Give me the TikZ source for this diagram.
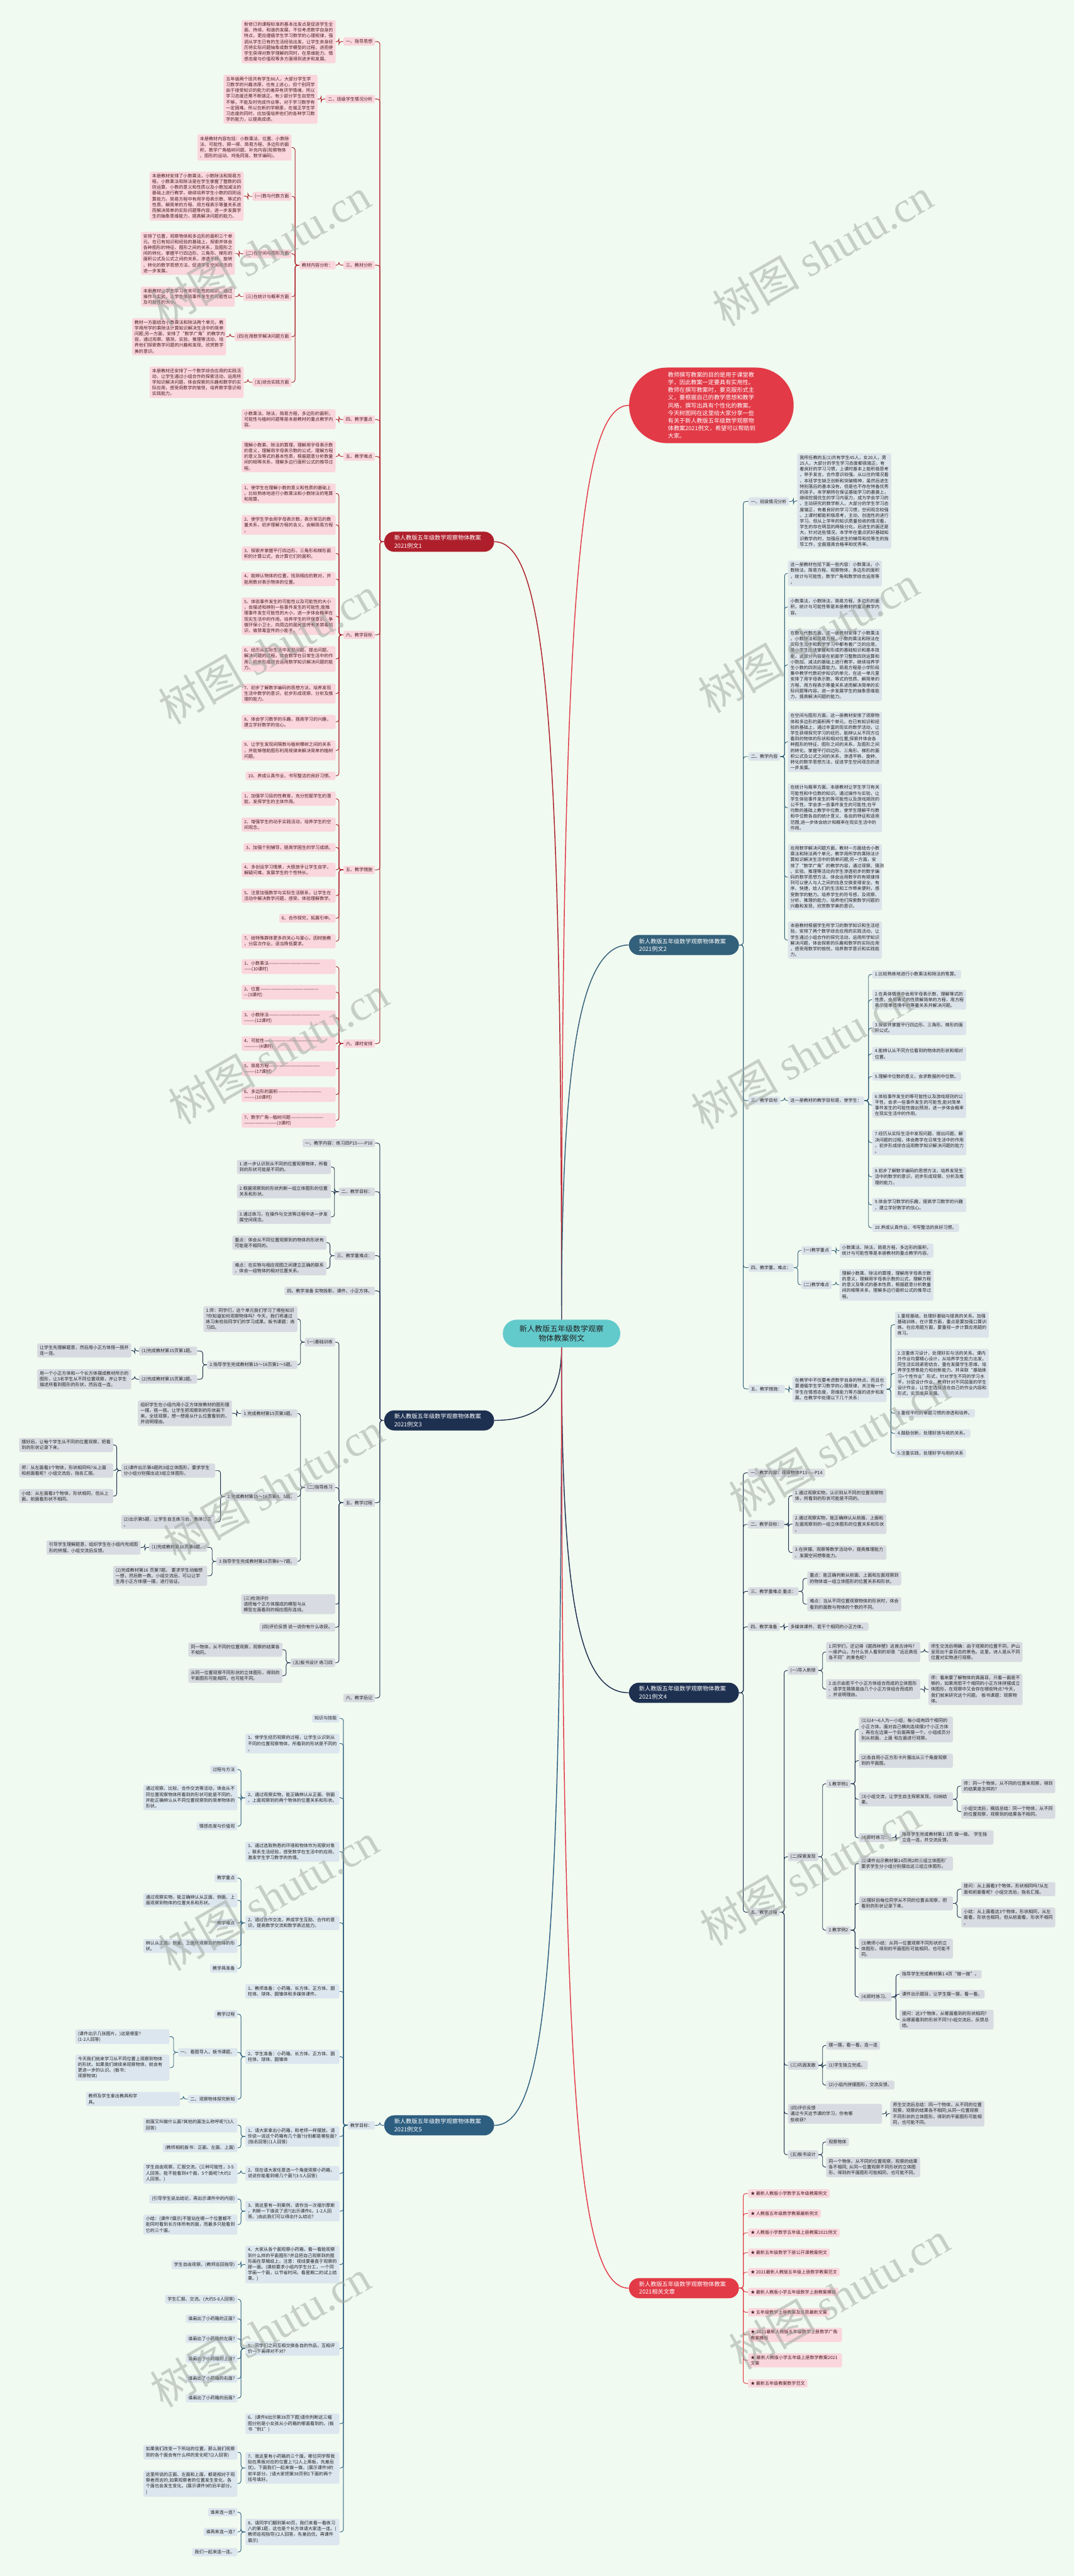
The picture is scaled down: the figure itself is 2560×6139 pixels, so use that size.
\documentclass[tikz,border=0pt]{standalone}
\usepackage{fontspec}
\setmainfont{Noto Sans CJK SC}
\newfontfamily\wmlatin{Liberation Serif}
\usetikzlibrary{positioning}

\definecolor{bgc}{HTML}{F1FAF0}
\definecolor{redA}{HTML}{AE1F2B}
\definecolor{pkF}{HTML}{FAD7DC}
\definecolor{pkT}{HTML}{4A1C20}
\definecolor{slA}{HTML}{33607A}
\definecolor{slF}{HTML}{DCE4EB}
\definecolor{nvA}{HTML}{1E3050}
\definecolor{gyF}{HTML}{D8DCE2}
\definecolor{blA}{HTML}{2D5E80}
\definecolor{blF}{HTML}{DCE6EE}
\definecolor{rdB}{HTML}{E23A47}
\definecolor{tealC}{HTML}{63CACC}
\definecolor{txtD}{HTML}{222222}
\definecolor{wmC}{HTML}{9DA59D}

\newcommand{\leaffont}{\fontsize{5.3}{6.9}\selectfont}
% connectors: parent on the right / on the left of its children
\newcommand{\jl}[3]{\foreach \kid in {#3}{\draw[#1] (#2.west) -- ++(-10,0) |- (\kid.east);}}
\newcommand{\jr}[3]{\foreach \kid in {#3}{\draw[#1] (#2.east) -- ++(10,0) |- (\kid.west);}}

\tikzset{
  box/.style={rounded corners=2pt, inner xsep=3pt, inner ysep=2.5pt, align=left, font=\leaffont},
  wd/.style={text width=106pt},
  pkbox/.style={box, fill=pkF, text=pkT},
  slbox/.style={box, fill=slF, text=txtD},
  gybox/.style={box, fill=gyF, text=txtD},
  blbox/.style={box, fill=blF, text=txtD},
  L/.style={anchor=east},
  R/.style={anchor=west},
  lnA/.style={draw=redA, line width=0.7pt, rounded corners=3pt},
  lnB/.style={draw=slA, line width=0.7pt, rounded corners=3pt},
  lnC/.style={draw=nvA, line width=0.7pt, rounded corners=3pt},
  lnE/.style={draw=blA, line width=0.7pt, rounded corners=3pt},
  lnF/.style={draw=rdB, line width=0.7pt, rounded corners=3pt},
  brn/.style={rounded corners=12pt, inner xsep=12pt, inner ysep=2.8pt, minimum height=24pt, text width=107pt, align=left, text=white, font=\fontsize{6.9}{9.15}\selectfont},
  mainln/.style={line width=1.1pt},
  wm/.style={rotate=30, text=wmC, opacity=0.5, font=\fontsize{52}{52}\selectfont}
}

\begin{document}
\begin{tikzpicture}[x=0.5pt, y=-0.5pt]
\useasboundingbox (0,0) rectangle (2560,6139);
\fill[bgc] (0,0) rectangle (2560,6139);

% centre, intro and branch nodes
\node[fill=tealC, text=txtD, rounded corners=16.5pt, minimum width=140pt, minimum height=33pt, inner sep=2pt, align=center, font=\fontsize{9.1}{11.75}\selectfont] (ctr) at (1338,3178) {新人教版五年级数学观察\\物体教案例文};
\node[fill=rdB, text=white, rounded corners=45pt, minimum width=196pt, minimum height=90pt, text width=103.5pt, align=left, font=\fontsize{6.85}{9.1}\selectfont] (intro) at (1695,966) {教师撰写教案的目的是用于课堂教\\学，因此教案一定要具有实用性。\\教师在撰写教案时，要克服形式主\\义，要根据自己的教学思想和教学\\风格，撰写出具有个性化的教案。\\今天树图网在这里给大家分享一些\\有关于新人教版五年级数学观察物\\体教案2021例文，希望可以帮助到\\大家。};
\node[brn, fill=redA, anchor=west] (A) at (915,1291) {新人教版五年级数学观察物体教案\\2021例文1};
\node[brn, fill=slA, anchor=east] (B) at (1761,2252) {新人教版五年级数学观察物体教案\\2021例文2};
\node[brn, fill=nvA, anchor=west] (C) at (915,3385) {新人教版五年级数学观察物体教案\\2021例文3};
\node[brn, fill=nvA, anchor=east] (D) at (1761,4034) {新人教版五年级数学观察物体教案\\2021例文4};
\node[brn, fill=blA, anchor=west] (E) at (915,5065) {新人教版五年级数学观察物体教案\\2021例文5};
\node[brn, fill=rdB, anchor=east] (F) at (1761,5453) {新人教版五年级数学观察物体教案\\2021相关文章};

\draw[mainln, draw=rdB] (ctr.north) .. controls +(0,-1700) and +(-120,0) .. (intro.west);
\draw[mainln, draw=redA] (ctr.north) .. controls +(0,-1450) and +(120,0) .. (A.east);
\draw[mainln, draw=slA] (ctr.north) .. controls +(0,-600) and +(-120,0) .. (B.west);
\draw[mainln, draw=nvA] (ctr.south) .. controls +(0,120) and +(110,0) .. (C.east);
\draw[mainln, draw=nvA] (ctr.south) .. controls +(0,600) and +(-120,0) .. (D.west);
\draw[mainln, draw=blA] (ctr.south) .. controls +(0,1500) and +(120,0) .. (E.east);
\draw[mainln, draw=rdB] (ctr.south) .. controls +(0,1800) and +(-120,0) .. (F.west);

% ---------- example 1 ----------
\node[pkbox,L] (a1) at (894,99) {一、指导思想};
\node[pkbox,L,wd] (a1x) at (800,99.5) {新修订的课程标准的基本出发点是促进学生全\\面、持续、和谐的发展。不仅考虑数学自身的\\特点，更应遵循学生学习数学的心理规律，强\\调从学生已有的生活经验出发，让学生亲身经\\历将实际问题抽象成数学模型的过程，进而使\\学生获得对数学理解的同时，在思维能力、情\\感态度与价值观等多方面得到进步和发展。};
\node[pkbox,L] (a2) at (894,236) {二、班级学生情况分析};
\node[pkbox,L,wd] (a2x) at (757,236.5) {五年级两个班共有学生86人，大部分学生学\\习数学的兴趣浓厚，也有上进心，但个别同学\\由于接受知识的能力的差异有厌学情绪，所以\\学习态度还需不断端正。有少部分学生自觉性\\不够，不能及时完成作业等，对于学习数学有\\一定困难。所以在新的学期里，在端正学生学\\习态度的同时，应加强培养他们的各种学习数\\学的能力，以提高成绩。};
\node[pkbox,L] (a3) at (894,632) {三、教材分析};
\node[pkbox,L] (a3x) at (800,632) {教材内容分析：};
\node[pkbox,L,wd] (a3a) at (695,351.5) {本册教材内容包括：小数乘法、位置、小数除\\法、可能性、掷一掷、简易方程、多边形的面\\积、数学广角植树问题、补充内容(观察物体\\、图形的运动、鸡兔同笼、数字编码)。};
\node[pkbox,L] (a3b) at (695,468) {(一)数与代数方面};
\node[pkbox,L,wd] (a3bx) at (581,467.5) {本册教材安排了小数乘法，小数除法和简易方\\程。小数乘法和除法是在学生掌握了整数的四\\则运算、小数的意义和性质以及小数加减法的\\基础上进行教学，继续培养学生小数的四则运\\算能力。简易方程中有用字母表示数、等式的\\性质、解简单的方程、用方程表示等量关系进\\而解决简单的实际问题等内容，进一步发展学\\生的抽象思维能力，提高解决问题的能力。};
\node[pkbox,L] (a3c) at (695,605) {(二)在空间与图形方面};
\node[pkbox,L,wd] (a3cx) at (560,604) {安排了位置，观察物体和多边形的面积三个单\\元。在已有知识和经验的基础上，探索并体会\\各种图形的特征、图形之间的关系，及图形之\\间的转化，掌握平行四边形、三角形、梯形的\\面积公式及公式之间的关系，渗透平移、旋转\\、转化的数学思想方法，促进学生空间观念的\\进一步发展。};
\node[pkbox,L] (a3d) at (695,707) {(三)在统计与概率方面};
\node[pkbox,L,wd] (a3dx) at (560,707) {本册教材让学生学习有关可能性的知识。通过\\操作与实验，让学生体验事件发生的可能性以\\及可能性的大小。};
\node[pkbox,L] (a3e) at (695,802.5) {(四)在用数学解决问题方面};
\node[pkbox,L,wd] (a3ex) at (539,802.5) {教材一方面结合小数乘法和除法两个单元，教\\学用所学的乘除法计算知识解决生活中的简单\\问题;另一方面，安排了“数学广角”的教学内\\容，通过观察、猜测、实验、推理等活动，培\\养他们探索数学问题的兴趣和发现、欣赏数学\\美的意识。};
\node[pkbox,L] (a3f) at (695,911) {(五)综合实践方面};
\node[pkbox,L,wd] (a3fx) at (581,911) {本册教材还安排了一个数学综合应用的实践活\\动，让学生通过小组合作的探索活动，运用所\\学知识解决问题，体会探索的乐趣和数学的实\\际应用，感受用数学的愉悦，培养数学意识和\\实践能力。};
\node[pkbox,L] (a4) at (894,1000) {四、教学重点};
\node[pkbox,L,wd] (a4x) at (800,999) {小数乘法、除法，简易方程，多边形的面积，\\可能性与植树问题等是本册教材的重点教学内\\容。};
\node[pkbox,L] (a5) at (894,1088) {五、教学难点};
\node[pkbox,L,wd] (a5x) at (800,1088) {理解小数乘、除法的算理，理解用字母表示数\\的意义，理解用字母表示数的公式，理解方程\\的意义及等式的基本性质，根据题意分析数量\\间的相等关系，理解多边行面积公式的推导过\\程。};
\node[pkbox,L] (a6) at (894,1513) {六、教学目标};
\node[pkbox,L,wd] (a6a) at (800,1176) {1、使学生在理解小数的意义和性质的基础上\\。比较熟练地进行小数乘法和小数除法的笔算\\和简算。};
\node[pkbox,L,wd] (a6b) at (800,1251) {2、使学生学会用字母表示数，表示常见的数\\量关系，初步理解方程的含义，会解简易方程\\。};
\node[pkbox,L,wd] (a6c) at (800,1319) {3、探索并掌握平行四边形、三角形和梯形面\\积的计算公式，会计算它们的面积。};
\node[pkbox,L,wd] (a6d) at (800,1380) {4、能辨认物体的位置，找到相应的数对，并\\能用数对表示物体的位置。};
\node[pkbox,L,wd] (a6e) at (800,1468.5) {5、体验事件发生的可能性以及可能性的大小\\，会描述和辨别一些事件发生的可能性;能推\\理事件发生可能性的大小，进一步体会概率在\\现实生活中的作用。培养学生的环保意识，争\\做环保小卫士，向周边的居民宣传有关禁毒知\\识，做禁毒宣传的小能手。};
\node[pkbox,L,wd] (a6f) at (800,1570.5) {6、经历从实际生活中发现问题、提出问题、\\解决问题的过程。体会数学在日常生活中的作\\用，初步形成综合运用数学知识解决问题的能\\力。};
\node[pkbox,L,wd] (a6g) at (800,1653) {7、初步了解数字编码的思想方法，培养发现\\生活中数学的意识，初步形成观察、分析及推\\理的能力。};
\node[pkbox,L,wd] (a6h) at (800,1720.5) {8、体会学习数学的乐趣，提高学习的兴趣，\\建立学好数学的信心。};
\node[pkbox,L,wd] (a6i) at (800,1788.5) {9、让学生发现间隔数与植树棵树之间的关系\\，并能够借助图形利用规律来解决简单的植树\\问题。};
\node[pkbox,L] (a6j) at (800,1849) {10、养成认真作业、书写整洁的良好习惯。};
\node[pkbox,L] (a7) at (894,2073) {五、教学措施};
\node[pkbox,L,wd] (a7a) at (800,1903.5) {1、加强学习目的性教育，充分挖掘学生的潜\\能，发挥学生的主体作用。};
\node[pkbox,L,wd] (a7b) at (800,1965) {2、增强学生的动手实践活动，培养学生的空\\间观念。};
\node[pkbox,L] (a7c) at (800,2019.5) {3、加强个别辅导，提高学困生的学习成绩。};
\node[pkbox,L,wd] (a7d) at (800,2073) {4、多创设学习情景，大胆放手让学生自学，\\解疑问难，发展学生的个性特长。};
\node[pkbox,L,wd] (a7e) at (800,2134.5) {5、注意加强数学与实际生活联系，让学生在\\活动中解决数学问题，感受、体验理解数学。};
\node[pkbox,L] (a7f) at (800,2188.5) {6、合作探究，拓展引申。};
\node[pkbox,L,wd] (a7g) at (800,2243) {7、给特殊群体更多的关心与爱心，因材施教\\，分层次作业，适当降低要求。};
\node[pkbox,L] (a8) at (894,2487) {六、课时安排};
\node[pkbox,L,wd] (a8a) at (800,2303.5) {1、小数乘法——————————————\\——(10课时)};
\node[pkbox,L,wd] (a8b) at (800,2364.5) {2、位置————————————————\\—(3课时)};
\node[pkbox,L,wd] (a8c) at (800,2425.5) {3、小数除法——————————————\\———(12课时)};
\node[pkbox,L,wd] (a8d) at (800,2487) {4、可能性———————————————\\————(4课时)};
\node[pkbox,L,wd] (a8e) at (800,2547.5) {5、简易方程——————————————\\———(17课时)};
\node[pkbox,L,wd] (a8f) at (800,2608.5) {6、多边形的面积————————————\\———(10课时)};
\node[pkbox,L,wd] (a8g) at (800,2670) {7、数学广角—植树问题—————————\\—————————(3课时)};

\jl{lnA}{A}{a1,a2,a3,a4,a5,a6,a7,a8}
\jl{lnA}{a1}{a1x}
\jl{lnA}{a2}{a2x}
\jl{lnA}{a3}{a3x}
\jl{lnA}{a3x}{a3a,a3b,a3c,a3d,a3e,a3f}
\jl{lnA}{a3b}{a3bx}
\jl{lnA}{a3c}{a3cx}
\jl{lnA}{a3d}{a3dx}
\jl{lnA}{a3e}{a3ex}
\jl{lnA}{a3f}{a3fx}
\jl{lnA}{a4}{a4x}
\jl{lnA}{a5}{a5x}
\jl{lnA}{a6}{a6a,a6b,a6c,a6d,a6e,a6f,a6g,a6h,a6i,a6j}
\jl{lnA}{a7}{a7a,a7b,a7c,a7d,a7e,a7f,a7g}
\jl{lnA}{a8}{a8a,a8b,a8c,a8d,a8e,a8f,a8g}

% ---------- example 2 ----------
\node[slbox,R] (b1) at (1783,1195) {一、班级情况分析};
\node[slbox,R,wd] (b1x) at (1899,1194) {我所任教的五(1)共有学生45人，女20人，男\\25人，大部分的学生学习态度都很端正，有\\着良好的学习习惯，上课时基本上能积极思考\\，举手发言，合作意识较强。从以往的情况看\\，本班学生缺乏创新和突破精神，虽然后进生\\特别落后的基本没有，但是也不存在特备优秀\\的孩子。本学期将在保证基础学习的基奠上，\\继续挖掘优生的学习内驱力，成为学会学习的\\、主动研究的数学新人。大部分的学生学习态\\度端正，有着良好的学习习惯，空间观念较强\\。上课时都能积极思考，主动、创造性的进行\\学习。但从上学年的知识质量验收的情况看，\\学生的存在明显的两极分化，后进生的面还是\\大，针对这些情况，本学年在重点抓好基础知\\识教学的时，加强后进生的辅导和优等生的指\\导工作，全面提高合格率和优秀率。};
\node[slbox,R] (b2) at (1783,1803) {二、教学内容};
\node[slbox,R,wd] (b2a) at (1877,1366.5) {这一册教材包括下面一些内容：小数乘法，小\\数除法，简易方程，观察物体，多边形的面积\\，统计与可能性，数学广角和数学综合运用等\\。};
\node[slbox,R,wd] (b2b) at (1877,1446.5) {小数乘法，小数除法，简易方程，多边形的面\\积，统计与可能性等是本册教材的重点教学内\\容。};
\node[slbox,R,wd] (b2c) at (1877,1584.5) {在数与代数方面，这一册教材安排了小数乘法\\、小数除法和简易方程。小数的乘法和除法在\\实际生活中和数学学习中都有着广泛的应用，\\是小学生应该掌握和形成的基础知识和基本技\\能。这部分内容是在前面学习整数四则运算和\\小数加、减法的基础上进行教学，继续培养学\\生小数的四则运算能力。简易方程是小学阶段\\集中教学代数初步知识的单元，在这一单元里\\安排了用字母表示数、等式的性质、解简单的\\方程、用方程表示等量关系进而解决简单的实\\际问题等内容，进一步发展学生的抽象思维能\\力，提高解决问题的能力。};
\node[slbox,R,wd] (b2d) at (1877,1768) {在空间与图形方面，这一册教材安排了观察物\\体和多边形的面积两个单元。在已有知识和经\\验的基础上，通过丰富的现实的数学活动，让\\学生获得探究学习的经历，能辨认从不同方位\\看到的物体的形状和相对位置;探索并体会各\\种图形的特征、图形之间的关系，及图形之间\\的转化，掌握平行四边形、三角形、梯形的面\\积公式及公式之间的关系，渗透平移、旋转、\\转化的数学思想方法，促进学生空间观念的进\\一步发展。};
\node[slbox,R,wd] (b2e) at (1877,1925) {在统计与概率方面，本册教材让学生学习有关\\可能性和中位数的知识。通过操作与实验，让\\学生体验事件发生的等可能性以及游戏规则的\\公平性，学会求一些事件发生的可能性;在平\\均数的基础上教学中位数，使学生理解平均数\\和中位数各自的统计意义、各自的特征和适用\\范围;进一步体会统计和概率在现实生活中的\\作用。};
\node[slbox,R,wd] (b2f) at (1877,2090.5) {在用数学解决问题方面，教材一方面结合小数\\乘法和除法两个单元，教学用所学的乘除法计\\算知识解决生活中的简单问题;另一方面，安\\排了“数学广角”的教学内容，通过观察、猜测\\、实验、推理等活动向学生渗透初步的数字编\\码的数学思想方法，体会运用数字的有规律排\\列可以使人与人之间的信息交换变得安全、有\\序、快捷，给人们的生活和工作带来便利，感\\受数学的魅力。培养学生的符号感，及观察、\\分析、推理的能力，培养他们探索数学问题的\\兴趣和发现、欣赏数学美的意识。};
\node[slbox,R,wd] (b2g) at (1877,2240.5) {本册教材根据学生所学习的数学知识和生活经\\验，安排了两个数学综合应用的实践活动，让\\学生通过小组合作的探究活动，运用所学知识\\解决问题，体会探索的乐趣和数学的实际应用\\，感受用数学的愉悦，培养数学意识和实践能\\力。};
\node[slbox,R] (b3) at (1783,2623) {三、教学目标};
\node[slbox,R] (b3x) at (1877,2623) {这一册教材的教学目标是，使学生：};
\node[slbox,R] (b3a) at (2078,2322) {1.比较熟练地进行小数乘法和除法的笔算。};
\node[slbox,R,wd] (b3b) at (2078,2382.5) {2.在具体情境中会用字母表示数，理解等式的\\性质，会用等式的性质解简单的方程，用方程\\表示简单情境中的等量关系并解决问题。};
\node[slbox,R,wd] (b3c) at (2078,2450) {3.探索并掌握平行四边形、三角形、梯形的面\\积公式。};
\node[slbox,R,wd] (b3d) at (2078,2511.5) {4.能辨认从不同方位看到的物体的形状和相对\\位置。};
\node[slbox,R] (b3e) at (2078,2565.5) {5.理解中位数的意义，会求数据的中位数。};
\node[slbox,R,wd] (b3f) at (2078,2633.5) {6.体验事件发生的等可能性以及游戏规则的公\\平性，会求一些事件发生的可能性;能对简单\\事件发生的可能性做出预测，进一步体会概率\\在现实生活中的作用。};
\node[slbox,R,wd] (b3g) at (2078,2723) {7.经历从实际生活中发现问题、提出问题、解\\决问题的过程，体会数学在日常生活中的作用\\，初步形成综合运用数学知识解决问题的能力\\。};
\node[slbox,R,wd] (b3h) at (2078,2804.5) {8.初步了解数字编码的思想方法，培养发现生\\活中的数学的意识，初步形成观察、分析及推\\理的能力。};
\node[slbox,R,wd] (b3i) at (2078,2871.5) {9.体会学习数学的乐趣，提高学习数学的兴趣\\，建立学好数学的信心。};
\node[slbox,R] (b3j) at (2078,2926) {10.养成认真作业、书写整洁的良好习惯。};
\node[slbox,R] (b4) at (1783,3021) {四、教学重、难点：};
\node[slbox,R] (b4a) at (1909,2980) {(一)教学重点};
\node[slbox,R,wd] (b4ax) at (2000,2980.5) {小数乘法、除法，简易方程，多边形的面积，\\统计与可能性等是本册教材的重点教学内容。};
\node[slbox,R] (b4b) at (1909,3062) {(二)教学难点};
\node[slbox,R,wd] (b4bx) at (2000,3062) {理解小数乘、除法的算理，理解用字母表示数\\的意义，理解用字母表示数的公式，理解方程\\的意义及等式的基本性质，根据题意分析数量\\间的相等关系，理解多边行面积公式的推导过\\程。};
\node[slbox,R] (b5) at (1783,3310) {五、教学措施：};
\node[slbox,R,wd] (b5x) at (1888,3310.5) {在教学中不仅要考虑数学自身的特点，而且也\\要遵循学生学习数学的心理规律，关注每一个\\学生在情感态度，思维能力等方面的进步和发\\展。在教学中处理以下几个关系：};
\node[slbox,R,wd] (b5a) at (2132,3157) {1.重视基础，处理好基础与提高的关系。加强\\基础训练，在计算方面，重点是要加强口算训\\练。在应用题方面，要重视一步计算应用题的\\练习。};
\node[slbox,R,wd] (b5b) at (2132,3273) {2.注重练习设计，处理好实与活的关系。课内\\外作业均要精心设计，从培养学生能力出发，\\同生活实践紧密结合，重在发展学生思维，培\\养学生想象能力和创新能力。并采取“基础练\\习+个性作业”形式，针对学生不同的学习水\\平，分层设计作业。教师针对不同层面的学生\\设计作业，让学生选择适合自己的作业内容和\\形式，实现差异发展。};
\node[slbox,R] (b5c) at (2132,3368) {3.重视平时的审题习惯的渗透和培养。};
\node[slbox,R] (b5d) at (2132,3416) {4.鼓励创新，处理好放与收的关系。};
\node[slbox,R] (b5e) at (2132,3463.5) {5.注重实践，处理好学与用的关系};

\jr{lnB}{B}{b1,b2,b3,b4,b5}
\jr{lnB}{b1}{b1x}
\jr{lnB}{b2}{b2a,b2b,b2c,b2d,b2e,b2f,b2g}
\jr{lnB}{b3}{b3x}
\jr{lnB}{b3x}{b3a,b3b,b3c,b3d,b3e,b3f,b3g,b3h,b3i,b3j}
\jr{lnB}{b4}{b4a,b4b}
\jr{lnB}{b4a}{b4ax}
\jr{lnB}{b4b}{b4bx}
\jr{lnB}{b5}{b5x}
\jr{lnB}{b5x}{b5a,b5b,b5c,b5d,b5e}

% ---------- example 3 ----------
\node[gybox,L] (c1) at (894,2724) {一、教学内容：练习四P15——P16};
\node[gybox,L] (c2) at (894,2840) {二、教学目标：};
\node[gybox,L,wd] (c2a) at (789,2781) {1.进一步认识到从不同的位置观察物体，所看\\到的形状可能是不同的。};
\node[gybox,L,wd] (c2b) at (789,2839) {2.根据观察到的形状判断一组立体图形的位置\\关系和形状。};
\node[gybox,L,wd] (c2c) at (789,2900) {3.通过练习，在操作与交流等过程中进一步发\\展空间观念。};
\node[gybox,L] (c3) at (894,2992.5) {三、教学重难点：};
\node[gybox,L,wd] (c3a) at (778,2961.5) {重点：体会从不同位置观察到的物体的形状有\\可能是不相同的。};
\node[gybox,L,wd] (c3b) at (778,3022.5) {难点：在实物与相应视图之间建立正确的联系\\，体会一组物体的相对位置关系。};
\node[gybox,L] (c4) at (894,3076.5) {四、教学准备 实物投影、课件、小正方体。};
\node[gybox,L] (c5) at (894,3581) {五、教学过程};
\node[gybox,L] (c5a) at (799,3198.5) {(一)基础训练};
\node[gybox,L,wd] (c5a1) at (709,3143.5) {1.师：同学们，这个单元我们学习了哪些知识\\?你知道如何观察物体吗? 今天，我们将通过\\练习来检验同学们的学习成果。板书课题：练\\习四。};
\node[gybox,L] (c5a2) at (709,3252.5) {2.指导学生完成教材第15～16页第1～5题。};
\node[gybox,L] (c5a2a) at (470,3219.5) {(1)完成教材第15页第1题。};
\node[gybox,L,wd] (c5a2ax) at (313,3218.5) {让学生先理解题意，然后用小正方体搭一搭并\\连一连。};
\node[gybox,L] (c5a2b) at (470,3287) {(2)完成教材第15页第2题。};
\node[gybox,L,wd] (c5a2bx) at (313,3287) {用一个小正方体和一个长方体摆成教材所示的\\图形，让3名学生从不同位置观察，并让学生\\描述所看到图形的形状，然后连一连。};
\node[gybox,L] (c5b) at (799,3545) {(二)指导练习};
\node[gybox,L] (c5b1) at (709,3368.5) {1.完成教材第15页第3题。};
\node[gybox,L,wd] (c5b1x) at (553,3368) {组织学生在小组内用小正方体按教材的图形摆\\一摆，搭一搭。让学生把观察到的形状画下\\来。全班观察，想一想是从什么位置看到的，\\并说明理由。};
\node[gybox,L] (c5b2) at (709,3566.5) {2.完成教材第15～16页第4、5题。};
\node[gybox,L,wd] (c5b2a) at (513,3504.5) {(1)课件出示第4题的3组立体图形，要求学生\\分小组分别摆出这3组立体图形。};
\node[gybox,L,wd] (c5b2a1) at (270,3443.5) {摆好后，让每个学生从不同的位置观察，把看\\到的形状记录下来。};
\node[gybox,L,wd] (c5b2a2) at (270,3504.5) {师：从左面看3个物体，形状相同吗?从上面\\和前面看呢? 小组交流后，指名汇报。};
\node[gybox,L,wd] (c5b2a3) at (270,3565.5) {小结：从左面看3个物体，形状相同，但从上\\面、前面看形状不相同。};
\node[gybox,L,wd] (c5b2b) at (513,3627) {(2)出示第5题，让学生自主练习后，集体订正\\。};
\node[gybox,L] (c5b3) at (709,3721) {3.指导学生完成教材第16页第6～7题。};
\node[gybox,L] (c5b3a) at (494,3687.5) {(1)完成教材第16页第6题。};
\node[gybox,L,wd] (c5b3ax) at (335,3688) {引导学生理解题意，组织学生在小组内完成图\\形的拼摆。小组交流后反馈。};
\node[gybox,L,wd] (c5b3b) at (494,3755.5) {(2)完成教材第16 页第7题。 要求学生动脑想\\一想，然后数一数。小组交流后，可以让学\\生用小正方体摆一摆，进行验证。};
\node[gybox,L,wd] (c5c) at (799,3823) {(三)检测评价 请把每个正方体摆成的模型与从\\模型左面看到的相应图形连线。};
\node[gybox,L] (c5d) at (799,3878) {(四)评价反馈 说一说你有什么收获。};
\node[gybox,L] (c5e) at (799,3962.5) {(五)板书设计 练习四};
\node[gybox,L,wd] (c5e1) at (673,3931.5) {同一物体，从不同的位置观察，观察的结果各\\不相同。};
\node[gybox,L,wd] (c5e2) at (673,3993.5) {从同一位置观察不同形状的立体图形，得到的\\平面图形可能相同，也可能不同。};
\node[gybox,L] (c6) at (894,4046.5) {六、教学后记};

\jl{lnC}{C}{c1,c2,c3,c4,c5,c6}
\jl{lnC}{c2}{c2a,c2b,c2c}
\jl{lnC}{c3}{c3a,c3b}
\jl{lnC}{c5}{c5a,c5b,c5c,c5d,c5e}
\jl{lnC}{c5a}{c5a1,c5a2}
\jl{lnC}{c5a2}{c5a2a,c5a2b}
\jl{lnC}{c5a2a}{c5a2ax}
\jl{lnC}{c5a2b}{c5a2bx}
\jl{lnC}{c5b}{c5b1,c5b2,c5b3}
\jl{lnC}{c5b1}{c5b1x}
\jl{lnC}{c5b2}{c5b2a,c5b2b}
\jl{lnC}{c5b2a}{c5b2a1,c5b2a2,c5b2a3}
\jl{lnC}{c5b3}{c5b3a,c5b3b}
\jl{lnC}{c5b3a}{c5b3ax}
\jl{lnC}{c5e}{c5e1,c5e2}

% ---------- example 4 ----------
\node[gybox,R] (d1) at (1782,3510) {一、教学内容：观察物体P13——P14};
\node[gybox,R] (d2) at (1782,3633) {二、教学目标：};
\node[gybox,R,wd] (d2a) at (1888,3564.5) {1.通过观察实物，认识到从不同的位置观察物\\体，所看到的形状可能是不同的。};
\node[gybox,R,wd] (d2b) at (1888,3632) {2.通过观察实物，能正确辨认从前面、上面和\\左面观察到的一组立体图形的位置关系和形状\\。};
\node[gybox,R,wd] (d2c) at (1888,3700) {3.在拼摆、观察等数学活动中，提高推理能力\\、发展空间想象能力。};
\node[gybox,R] (d3) at (1782,3792.5) {三、教学重难点 重点：};
\node[gybox,R,wd] (d3a) at (1923,3761.5) {重点：能正确判断从前面、上面和左面观察到\\的物体或一组立体图形的位置关系和形状。};
\node[gybox,R,wd] (d3b) at (1923,3823) {难点：当从不同位置观察物体的形状时，体会\\看到的面数与物体的个数的不同。};
\node[gybox,R] (d4) at (1782,3877) {四、教学准备};
\node[gybox,R] (d4x) at (1877,3876.5) {多媒体课件、若干个相同的小正方体。};
\node[gybox,R] (d5) at (1782,4557) {五、教学过程};
\node[gybox,R] (d5a) at (1877,3981) {(一)导入新授};
\node[gybox,R,wd] (d5a1) at (1968,3937) {1.同学们，还记得《题西林壁》这首古诗吗?\\一座庐山，为什么世人看到的却是“远近高低\\各不同”的景色呢?};
\node[gybox,R,wd] (d5a1x) at (2212,3937) {师生交流后明确：由于观察的位置不同，庐山\\呈现出千姿百态的景色。这里，诗人是从不同\\位置对实物进行观察。};
\node[gybox,R,wd] (d5a2) at (1968,4025.5) {2.出示由若干个小正方体组合而成的立体图形\\。请学生猜猜是由几个小正方体组合而成的\\，并说明理由。};
\node[gybox,R,wd] (d5a2x) at (2212,4026) {师：看来要了解物体的真面目，只看一面是不\\够的，如果用若干个相同的小正方体拼摆成立\\体图形，在观察中又会存在哪些特点?今天，\\我们就来研究这个问题。 板书课题：观察物\\体。};
\node[gybox,R] (d5b) at (1877,4425) {(二)探索发现};
\node[gybox,R] (d5b1) at (1968,4251) {1.教学例1};
\node[gybox,R,wd] (d5b1a) at (2046,4121.5) {(1)以4～6人为一小组，每小组有四个相同的\\小正方体。面对自己横向连续摆3个小正方体\\，再在左边第一个后面再摆一个。小组成员分\\别从前面、上面 和左面进行观察。};
\node[gybox,R,wd] (d5b1b) at (2046,4196) {(2)各自用小正方形卡片摆出从三个角度观察\\到的平面图。};
\node[gybox,R,wd] (d5b1c) at (2046,4288) {(3)小组交流，让学生自主探索发现，归纳结\\果。};
\node[gybox,R,wd] (d5b1c1) at (2290,4256.5) {师：同一个物体，从不同的位置来观察，得到\\的结果是怎样的?};
\node[gybox,R,wd] (d5b1c2) at (2290,4317.5) {小组交流后，概括总结：同一个物体，从不同\\的位置观察，观察到的结果各不相同。};
\node[gybox,R] (d5b1d) at (2046,4379.5) {(4)即时练习：};
\node[gybox,R,wd] (d5b1dx) at (2143,4379) {指导学生完成教材第1 3页 做一做。 学生独\\立连一连，并交流反馈。};
\node[gybox,R] (d5b2) at (1968,4600) {2.教学例2};
\node[gybox,R,wd] (d5b2a) at (2046,4441) {(1)课件出示教材第14页例2的三组立体图形'\\要求学生分小组分别摆出这三组立体图形。};
\node[gybox,R,wd] (d5b2b) at (2046,4536) {(2)摆好后每位同学从不同的位置去观察，把\\看到的形状记录下来。};
\node[gybox,R,wd] (d5b2b1) at (2290,4502) {提问：从上面看3个物体，形状相同吗?从左\\面和前面看呢? 小组交流后，指名汇报。};
\node[gybox,R,wd] (d5b2b2) at (2290,4569.5) {小结：从上面看这3个物体，形状相同，从左\\面看，形状也相同。但从前面看，形状不相同\\。};
\node[gybox,R,wd] (d5b2c) at (2046,4644) {(3)教师小结：从同一位置观察不同形状的立\\体图形，得到的平面图形可能相同，也可能不\\同。};
\node[gybox,R] (d5b2d) at (2046,4759) {(4)即时练习。};
\node[gybox,R] (d5b2d1) at (2143,4705) {指导学生完成教材第1 4页“做一做”。};
\node[gybox,R] (d5b2d2) at (2143,4752.5) {课件出示题目，让学生摆一摆，看一看。};
\node[gybox,R,wd] (d5b2d3) at (2143,4813) {提问：这3个物体，从哪面看到的形状相同?\\从哪面看到的形状不同?小组交流后，反馈总\\结。};
\node[gybox,R] (d5c) at (1877,4922) {(三)巩固发散};
\node[gybox,R] (d5c1) at (1968,4874.5) {摆一摆，看一看，连一连};
\node[gybox,R] (d5c2) at (1968,4921.5) {(1)学生独立完成。};
\node[gybox,R] (d5c3) at (1968,4969) {(2)小组内拼摆图形，交流反馈。};
\node[gybox,R,wd] (d5d) at (1877,5037.5) {(四)评价反馈 通过今天这节课的学习，你有哪\\些收获?};
\node[gybox,R,wd] (d5dx) at (2121,5037) {师生交流后总结：同一个物体，从不同的位置\\观察，观察的结果各不相同;从同一位置观察\\不同形状的立体图形，得到的平面图形可能相\\同，也可能不同。};
\node[gybox,R] (d5e) at (1877,5135) {(五)板书设计};
\node[gybox,R] (d5e1) at (1968,5104.5) {观察物体};
\node[gybox,R,wd] (d5e2) at (1968,5164.5) {同一个物体，从不同的位置观察，观察的结果\\各不相同; 从同一位置观察不同形状的立体图\\形，得到的平面图形可能相同，也可能不同。};

\jr{lnC}{D}{d1,d2,d3,d4,d5}
\jr{lnC}{d2}{d2a,d2b,d2c}
\jr{lnC}{d3}{d3a,d3b}
\jr{lnC}{d4}{d4x}
\jr{lnC}{d5}{d5a,d5b,d5c,d5d,d5e}
\jr{lnC}{d5a}{d5a1,d5a2}
\jr{lnC}{d5a1}{d5a1x}
\jr{lnC}{d5a2}{d5a2x}
\jr{lnC}{d5b}{d5b1,d5b2}
\jr{lnC}{d5b1}{d5b1a,d5b1b,d5b1c,d5b1d}
\jr{lnC}{d5b1c}{d5b1c1,d5b1c2}
\jr{lnC}{d5b1d}{d5b1dx}
\jr{lnC}{d5b2}{d5b2a,d5b2b,d5b2c,d5b2d}
\jr{lnC}{d5b2b}{d5b2b1,d5b2b2}
\jr{lnC}{d5b2d}{d5b2d1,d5b2d2,d5b2d3}
\jr{lnC}{d5c}{d5c1,d5c2,d5c3}
\jr{lnC}{d5d}{d5dx}
\jr{lnC}{d5e}{d5e1,d5e2}

% ---------- example 5 ----------
\node[blbox,L] (e0) at (894,5065) {教学目标：};
\node[blbox,L] (e1) at (809,4095) {知识与技能};
\node[blbox,L,wd] (e2) at (809,4155) {1、使学生经历观察的过程，让学生认识到从\\不同的位置观察物体，所看到的形状是不同的\\。};
\node[blbox,L,wd] (e3) at (809,4284.5) {2、通过观察实物，能正确辨认从正面、侧面\\、上面观察到的两个物体的位置关系和形状。};
\node[blbox,L] (e3a) at (566,4217) {过程与方法};
\node[blbox,L,wd] (e3b) at (566,4283.5) {通过观察、比较、合作交流等活动，体会从不\\同位置观察物体所看到的形状可能是不同的，\\并能正确辨认从不同位置观察到的简单物体的\\形状。};
\node[blbox,L] (e3c) at (566,4352) {情感态度与价值观};
\node[blbox,L,wd] (e4) at (809,4413) {1、通过选取熟悉的环境和物体作为观察对象\\，联系生活经验，感受数学在生活中的应用，\\激发学生学习数学的热情。};
\node[blbox,L,wd] (e5) at (809,4582.5) {2、通过合作交流，养成学生互助、合作的意\\识，提高数学交流和数学表达能力。};
\node[blbox,L] (e5a) at (566,4475.5) {教学重点};
\node[blbox,L,wd] (e5b) at (566,4528.5) {通过观察实物，能正确辨认从正面、侧面、上\\面观察到物体的位置关系和形状。};
\node[blbox,L] (e5c) at (566,4583) {教学难点};
\node[blbox,L,wd] (e5d) at (566,4637.5) {辨认从正面、侧面、上面所观察到的物体的形\\状。};
\node[blbox,L] (e5e) at (566,4691) {教学具准备};
\node[blbox,L,wd] (e6) at (809,4745.5) {1、教师准备：小药箱、长方体、正方体、圆\\柱体、球体、圆锥体和多媒体课件。};
\node[blbox,L,wd] (e7) at (809,4901.5) {2、学生准备：小药箱、长方体、正方体、圆\\柱体、球体、圆锥体};
\node[blbox,L] (e7a) at (566,4800) {教学过程};
\node[blbox,L] (e7b) at (566,4891) {一、 看图导入，板书课题。};
\node[blbox,L,wd] (e7b1) at (404,4853.5) {(课件出示几张图片。)这是哪里?\\(1-2人回答)};
\node[blbox,L,wd] (e7b2) at (404,4927.5) {今天我们就来学习从不同位置上观察到物体\\的形状。如果我们继续来观察物体，就会有\\更进一步的认识。(板书：\\观察物体)};
\node[blbox,L] (e7c) at (566,5002.5) {二、观察物体探究新知};
\node[blbox,L,wd] (e7cx) at (429,5002.5) {教师及学生拿出教具和学\\具。};
\node[blbox,L,wd] (e8) at (809,5091.5) {1、请大家拿出小药箱，和老师一样摆放。请\\你说一说这个药箱有几个面?分别都是哪些面?\\(指名回答)(1人回答)};
\node[blbox,L,wd] (e8a) at (566,5064.5) {前面又叫做什么面?其他的面怎么称呼呢?(3人\\回答)};
\node[blbox,L] (e8b) at (566,5118.5) {(教师相机板书：正面、左面、上面)};
\node[blbox,L,wd] (e9) at (809,5179.5) {2、现在请大家任意选一个角度观察小药箱，\\说说你能看到哪几个面?(3-5人回答)};
\node[blbox,L,wd] (e9x) at (566,5179.5) {学生自由观察，汇报交流。(三种可能性，3-5\\人回答。能不能看到4个面，5个面呢?大约2\\人回答。)};
\node[blbox,L,wd] (e10) at (809,5269.5) {3、我这里有一则案例，请你当一次福尔摩斯\\，判断一下谁说了谎?(出示课件6，1-2人回\\答。)由此我们可以得出什么结论?};
\node[blbox,L] (e10a) at (566,5240.5) {(引导学生说出结论，再出示课件中的内容)};
\node[blbox,L,wd] (e10b) at (566,5301.5) {小结：(课件7展示)不管站在哪一个位置都不\\能同时看到长方体所有的面，而最多只能看到\\它的三个面。};
\node[blbox,L,wd] (e11) at (809,5396.5) {4、大家从各个面观察小药箱，看一看能观察\\到什么样的平面图形?并且把自己观察到的图\\形画在草稿纸上。注意：视线要垂直于观察的\\那一面。(课前要求小组内学生分工，一个同\\学画一个面，以节省时间。看星期二的试上结\\果。)};
\node[blbox,L] (e11x) at (566,5397) {学生自由观察。(教师巡回指导)};
\node[blbox,L,wd] (e12) at (809,5597) {5、同学们之间互相交换各自的作品，互相评\\价一下画得对不对?};
\node[blbox,L] (e12a) at (566,5479.5) {学生汇报、交流。(大约5-6人回答)};
\node[blbox,L] (e12b) at (566,5526) {谁画出了小药箱的正面?};
\node[blbox,L] (e12c) at (566,5573.5) {谁画出了小药箱的左面?};
\node[blbox,L] (e12d) at (566,5621) {谁画出了小药箱的上面?};
\node[blbox,L] (e12e) at (566,5668.5) {谁画出了小药箱的右面?};
\node[blbox,L] (e12f) at (566,5715) {谁画出了小药箱的后面?};
\node[blbox,L,wd] (e13) at (809,5776) {6、(课件8出示第38页下图)请你判断这三幅\\图分别是小女孩从小药箱的哪面看到的。(板\\书“例1”)};
\node[blbox,L,wd] (e14) at (809,5881.5) {7、我这里有小药箱的三个面，哪位同学帮我\\贴在黑板对应的位置上?(2人上黑板，先差后\\优)。下面我们一起来做一做。(展示课件9的\\前半部分。)请大家把第38页例1下面的两个\\括号填好。};
\node[blbox,L,wd] (e14a) at (566,5844) {如果我们改变一下所站的位置，那么我们观察\\到的各个面会有什么样的变化呢?(2人回答)};
\node[blbox,L,wd] (e14b) at (566,5918.5) {这里所说的正面、左面和上面，都是相对于观\\察者而言的,如果观察者的位置发生变化，各\\个面也会发生变化。(展示课件9的后半部分。\\)};
\node[blbox,L,wd] (e15) at (809,6034) {8、请同学们翻到第40页，我们来看一看练习\\八的第1题，这也是个长方体请大家连一连。(\\教师巡视指导)(2人回答，先差后优。再课件\\展示)};
\node[blbox,L] (e15a) at (566,5987) {谁来连一连?};
\node[blbox,L] (e15b) at (566,6034) {谁再来连一连?};
\node[blbox,L] (e15c) at (566,6082) {我们一起来连一连。};

\jl{lnE}{E}{e0}
\jl{lnE}{e0}{e1,e2,e3,e4,e5,e6,e7,e8,e9,e10,e11,e12,e13,e14,e15}
\jl{lnE}{e3}{e3a,e3b,e3c}
\jl{lnE}{e5}{e5a,e5b,e5c,e5d,e5e}
\jl{lnE}{e7}{e7a,e7b,e7c}
\jl{lnE}{e7b}{e7b1,e7b2}
\jl{lnE}{e7c}{e7cx}
\jl{lnE}{e8}{e8a,e8b}
\jl{lnE}{e9}{e9x}
\jl{lnE}{e10}{e10a,e10b}
\jl{lnE}{e11}{e11x}
\jl{lnE}{e12}{e12a,e12b,e12c,e12d,e12e,e12f}
\jl{lnE}{e14}{e14a,e14b}
\jl{lnE}{e15}{e15a,e15b,e15c}

% ---------- related articles ----------
\node[pkbox,R] (f1) at (1782,5227.5) {★ 最新人教版小学数学五年级教案例文};
\node[pkbox,R] (f2) at (1782,5275) {★ 人教版五年级数学教案最新例文};
\node[pkbox,R] (f3) at (1782,5321) {★ 人教版小学数学五年级上册教案2021例文};
\node[pkbox,R] (f4) at (1782,5368.5) {★ 最新五年级数学下册公开课教案例文};
\node[pkbox,R] (f5) at (1782,5415) {★ 2021最新人教版五年级上册数学教案范文};
\node[pkbox,R] (f6) at (1782,5462) {★ 最新人教版小学五年级数学上册教案模板};
\node[pkbox,R] (f7) at (1782,5510.5) {★ 五年级数学上册教案及反思最新文案};
\node[pkbox,R,wd] (f8) at (1782,5564.5) {★ 2021最新人教版五年级数学上册数学广角\\教案模板};
\node[pkbox,R,wd] (f9) at (1782,5625) {★ 最新人教版小学五年级上册数学教案2021\\文案};
\node[pkbox,R] (f10) at (1782,5680) {★ 最新五年级教案数学范文};
\jr{lnF}{F}{f1,f2,f3,f4,f5,f6,f7,f8,f9,f10}

% watermarks
\foreach \wx/\wy in {620/600, 640/1550, 664/2502, 652/3542, 640/4520, 620/5560, 1960/600, 1926/1523, 1910/2515, 2000/3440, 1930/4460, 2000/5470}
  \node[wm] at (\wx,\wy) {树图 {\wmlatin shutu.cn}};
\end{tikzpicture}
\end{document}
